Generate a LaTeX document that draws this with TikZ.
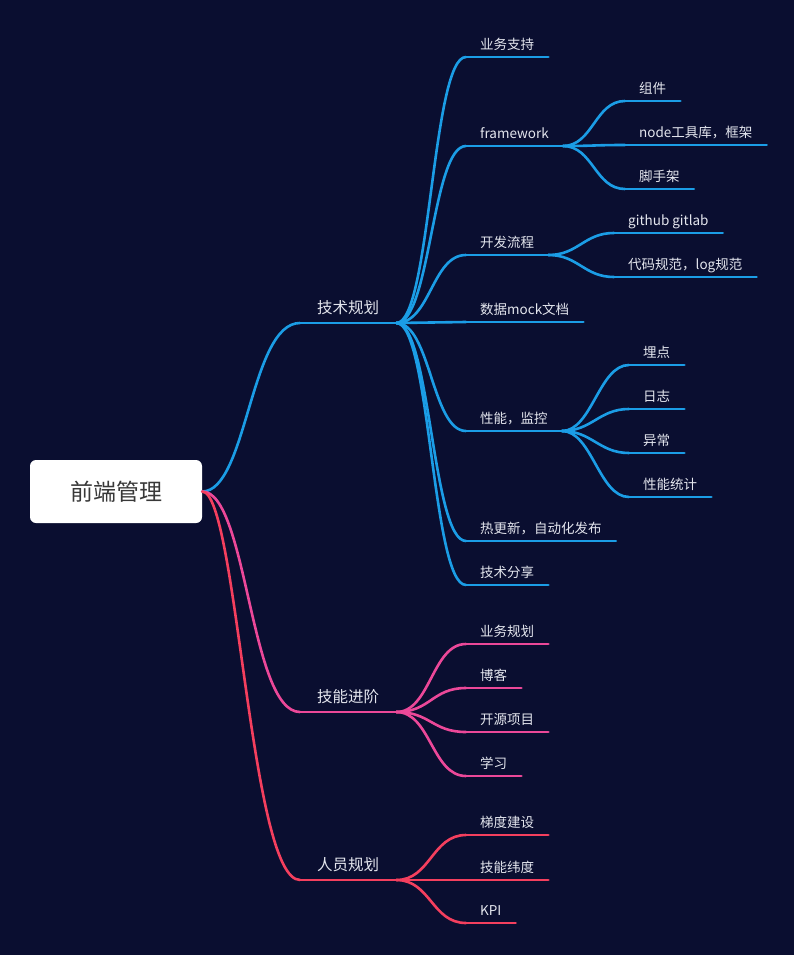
\documentclass[tikz,border=0pt]{standalone}
\usepackage{fontspec}
\setmainfont{Noto Sans CJK SC}
\usepackage{xcolor}

\definecolor{bgnavy}{HTML}{0A0E30}
\definecolor{techblue}{HTML}{1B9DE6}
\definecolor{skillpink}{HTML}{EC4899}
\definecolor{staffred}{HTML}{F43F5E}
\definecolor{labelgray}{HTML}{E4E6EE}

\tikzset{
  root/.style={fill=white,rounded corners=6pt,minimum width=172pt,minimum height=63pt,
    text=black!78,font=\fontsize{23}{26}\selectfont},
  main/.style={anchor=south west,inner xsep=17pt,inner ysep=6pt,text height=11pt,text depth=3pt,
    text=labelgray,font=\fontsize{15.5}{17}\selectfont},
  topic/.style={anchor=south west,inner xsep=14pt,inner ysep=5pt,text height=10pt,text depth=2.5pt,
    text=labelgray,font=\fontsize{13.5}{15}\selectfont},
  branch/.style={to path={.. controls +(#1,0) and +(-#1,0) .. (\tikztotarget)}},
  branch/.default=34pt,
  tech/.style={draw=techblue,line width=2.6pt,line cap=round},
  skill/.style={draw=skillpink,line width=2.6pt,line cap=round},
  staff/.style={draw=staffred,line width=2.6pt,line cap=round}
}

\begin{document}
\begin{tikzpicture}[x=1pt,y=-1pt]
\fill[bgnavy] (0,0) rectangle (794,955);
\useasboundingbox (0,0) rectangle (794,955);

% root
\node[root] (root) at (116,491.5) {前端管理};

% first level
\node[main] (jsgh) at (300,323) {技术规划};
\node[main] (jnjj) at (300,712) {技能进阶};
\node[main] (rygh) at (300,880) {人员规划};

% technique branch
\node[topic] (ywzc) at (466,57) {业务支持};
\node[topic] (fw) at (466,146) {framework};
\node[topic] (kflc) at (466,255) {开发流程};
\node[topic] (mock) at (466,322) {数据mock文档};
\node[topic] (xnjk) at (466,431) {性能，监控};
\node[topic] (rgx) at (466,541) {热更新，自动化发布};
\node[topic] (jsfx) at (466,585) {技术分享};

\node[topic] (zj) at (625,101) {组件};
\node[topic] (gjk) at (625,145) {node工具库，框架};
\node[topic] (jsj) at (625,189) {脚手架};

\node[topic] (git) at (614,233) {github gitlab};
\node[topic] (dmgf) at (614,277) {代码规范，log规范};

\node[topic] (md) at (629,365) {埋点};
\node[topic] (rz) at (629,409) {日志};
\node[topic] (yc) at (629,453) {异常};
\node[topic] (xntj) at (629,497) {性能统计};

% skill branch
\node[topic] (ywgh) at (466,644) {业务规划};
\node[topic] (bk) at (466,688) {博客};
\node[topic] (kyxm) at (466,732) {开源项目};
\node[topic] (xx) at (466,776) {学习};

% staff branch
\node[topic] (tdjs) at (466,835) {梯度建设};
\node[topic] (jnwd) at (466,880) {技能纬度};
\node[topic] (kpi) at (466,923) {KPI};

% connectors
\draw[tech] (root.east) .. controls +(45pt,0) and +(-50pt,0) .. (jsgh.south west);
\draw[skill] (root.east) .. controls +(45pt,0) and +(-50pt,0) .. (jnjj.south west);
\draw[staff] (root.east) .. controls +(35pt,0) and +(-50pt,0) .. (rygh.south west);

\foreach \n in {ywzc,fw,kflc,mock,xnjk,rgx,jsfx}
  \draw[tech] (jsgh.south east) to[branch] (\n.south west);
\foreach \n in {zj,gjk,jsj}
  \draw[tech] (fw.south east) to[branch=30pt] (\n.south west);
\foreach \n in {git,dmgf}
  \draw[tech] (kflc.south east) to[branch=30pt] (\n.south west);
\foreach \n in {md,rz,yc,xntj}
  \draw[tech] (xnjk.south east) to[branch=30pt] (\n.south west);
\foreach \n in {ywgh,bk,kyxm,xx}
  \draw[skill] (jnjj.south east) to[branch] (\n.south west);
\foreach \n in {tdjs,jnwd,kpi}
  \draw[staff] (rygh.south east) to[branch] (\n.south west);

% underlines
\foreach \n in {jsgh,ywzc,fw,kflc,mock,xnjk,rgx,jsfx,zj,gjk,jsj,git,dmgf,md,rz,yc,xntj}
  \draw[tech] (\n.south west) -- (\n.south east);
\foreach \n in {jnjj,ywgh,bk,kyxm,xx}
  \draw[skill] (\n.south west) -- (\n.south east);
\foreach \n in {rygh,tdjs,jnwd,kpi}
  \draw[staff] (\n.south west) -- (\n.south east);
\end{tikzpicture}
\end{document}
